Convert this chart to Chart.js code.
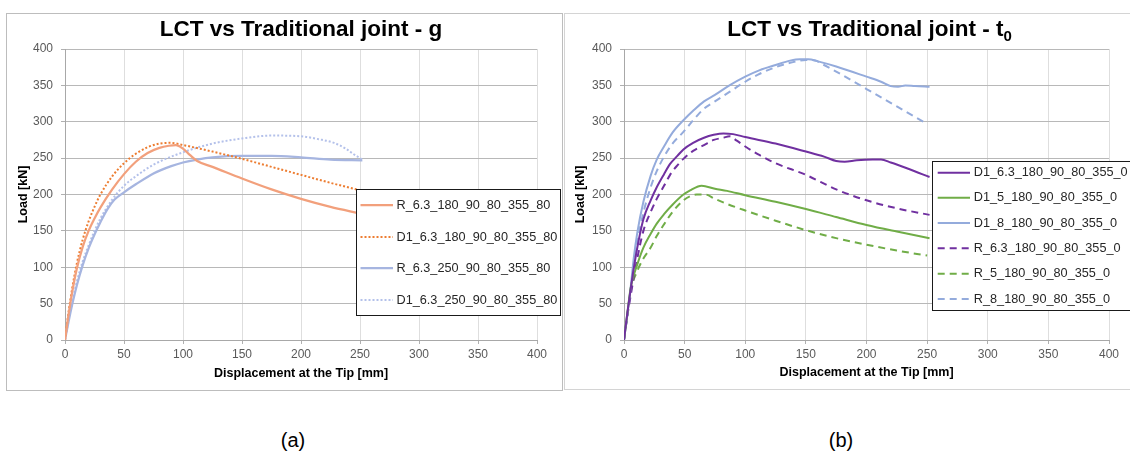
<!DOCTYPE html>
<html>
<head>
<meta charset="utf-8">
<script src="https://cdn.jsdelivr.net/npm/chart.js@4.4.0/dist/chart.umd.min.js"></script>
<style>
	body { margin: 0; width: 1130px; height: 458px; background: #fff; position: relative; overflow: hidden; font-family: 'Liberation Sans', Arial, sans-serif; }
	.panel { position: absolute; background: #fff; }
	#panelA { left: 6px; top: 13px; width: 555px; height: 376px; border: 1px solid #bdbdbd; }
	#panelB { left: 564px; top: 13px; width: 600px; height: 375px; border: 1px solid #d4d4d4; }
	canvas { display: block; }
	.cap { position: absolute; top: 429px; font-size: 20px; color: #000; width: 60px; margin-left: -30px; text-align: center; }
</style>
</head>
<body>
<div class="panel" id="panelA"><canvas id="chartA" width="555" height="376"></canvas></div>
<div class="panel" id="panelB"><canvas id="chartB" width="570" height="375"></canvas></div>
<div class="cap" style="left:293px">(a)</div>
<div class="cap" style="left:841px">(b)</div>
<script>
/* Chart (a): g series, displacement [mm] / load [kN] */
const r63_180_x = [0, 3, 6, 10, 15, 20, 25, 30, 40, 50, 60, 70, 80, 88, 94, 100, 106, 112, 125, 150, 175, 200, 225, 250];
const r63_180_y = [0, 35, 65, 98, 128, 150, 167, 182, 207, 228, 245, 257, 264, 267, 268, 263, 254, 246, 238, 222, 207, 194, 183, 174];
const d63_180_x = [0, 3, 6, 10, 15, 20, 25, 30, 40, 50, 60, 70, 80, 90, 100, 125, 150, 175, 200, 225, 252];
const d63_180_y = [0, 38, 70, 105, 138, 163, 183, 200, 225, 243, 256, 265, 270, 271, 268, 259, 249, 238, 227, 216, 205];
const r63_250_x = [0, 3, 6, 10, 15, 20, 25, 30, 36, 42, 50, 60, 75, 90, 100, 112, 125, 150, 175, 200, 225, 252];
const r63_250_y = [0, 25, 48, 75, 103, 126, 145, 162, 180, 193, 203, 214, 229, 239, 244, 248, 251, 253, 253, 251, 248, 247];
const d63_250_x = [0, 3, 6, 10, 15, 20, 25, 30, 40, 50, 60, 75, 100, 125, 150, 175, 200, 215, 228, 238, 245, 252];
const d63_250_y = [0, 28, 52, 80, 108, 130, 150, 167, 193, 212, 225, 241, 258, 270, 277, 281, 280, 276, 271, 263, 255, 248];

/* Chart (b): t0 series */
const d63_x = [0, 3, 5.5, 8, 12, 16, 22, 27, 33, 38, 44, 49, 57, 66, 74, 82, 90, 100, 125, 150, 165, 175, 182, 192, 205, 212, 220, 235, 252];
const d63_y = [0, 40, 70, 98, 136, 166, 192, 210, 228, 242, 253, 262, 271, 278, 282, 284, 283, 279, 270, 259, 252, 246, 245, 247, 248, 248, 244, 235, 224];
const d5_x = [0, 3, 5.5, 11, 16, 22, 27, 33, 40, 49, 55, 61, 64, 75, 85, 100, 125, 150, 175, 200, 225, 252];
const d5_y = [0, 40, 72, 104, 127, 146, 160, 173, 186, 200, 206, 211, 212, 208, 205, 199, 190, 180, 169, 158, 149, 140];
const d8_x = [0, 3, 5.5, 8, 11, 16, 22, 27, 33, 40, 49, 57, 66, 75, 87, 100, 112, 125, 137, 145, 152, 160, 175, 200, 212, 220, 226, 232, 240, 252];
const d8_y = [0, 38, 72, 112, 148, 190, 226, 248, 266, 285, 302, 315, 328, 337, 350, 362, 371, 378, 384, 386, 386, 383, 376, 362, 355, 349, 348, 350, 349, 348];
const r63_x = [0, 3, 6, 10, 16, 22, 27, 33, 38, 44, 49, 57, 66, 74, 82, 87, 93, 100, 112, 125, 150, 175, 200, 225, 252];
const r63_y = [0, 36, 66, 104, 150, 176, 194, 212, 227, 240, 249, 260, 268, 275, 278, 280, 274, 266, 254, 243, 227, 207, 192, 181, 172];
const r5_x = [0, 3, 5.5, 11, 16, 22, 27, 33, 40, 49, 55, 60, 67, 75, 85, 100, 125, 150, 175, 200, 225, 250];
const r5_y = [0, 38, 68, 95, 112, 127, 143, 159, 176, 192, 198, 200, 200, 194, 187, 178, 164, 151, 140, 131, 123, 116];
const r8_x = [0, 3, 5.5, 8, 11, 16, 22, 27, 33, 40, 49, 57, 66, 75, 87, 100, 112, 125, 137, 150, 158, 165, 175, 200, 225, 250];
const r8_y = [0, 36, 68, 102, 135, 175, 210, 232, 252, 270, 286, 302, 318, 328, 341, 355, 366, 375, 381, 385, 384, 378, 369, 345, 321, 297];

const xTicks = { min: 0, max: 400, step: 50 };
const yTicks = { min: 0, max: 400, step: 50 };

function pts(xs, ys) {
	return xs.map((x, i) => ({ x: x, y: ys[i] }));
}

function line(label, xs, ys, color, dash, width) {
	return {
		label: label,
		data: pts(xs, ys),
		showLine: true,
		borderColor: color,
		backgroundColor: color,
		borderWidth: width,
		borderDash: dash,
		pointRadius: 0,
		cubicInterpolationMode: 'monotone',
	};
}

// Legend drawn as a framed box inside the plot
const boxLegend = {
	id: 'boxLegend',
	afterDatasetsDraw(chart, args, o) {
		const ctx = chart.ctx;
		ctx.save();
		ctx.fillStyle = '#fff';
		ctx.fillRect(o.left, o.top, o.width, o.height);
		ctx.strokeStyle = '#1a1a1a';
		ctx.lineWidth = 1;
		ctx.strokeRect(o.left + 0.5, o.top + 0.5, o.width - 1, o.height - 1);
		ctx.font = o.font;
		ctx.textBaseline = 'middle';
		chart.data.datasets.forEach((ds, i) => {
			const y = o.rows[i];
			ctx.beginPath();
			ctx.strokeStyle = ds.borderColor;
			ctx.lineWidth = ds.borderWidth;
			ctx.setLineDash(ds.borderDash);
			ctx.moveTo(o.from, y);
			ctx.lineTo(o.to, y);
			ctx.stroke();
			ctx.setLineDash([]);
			ctx.fillStyle = '#262626';
			ctx.fillText(ds.label, o.textX, y);
		});
		ctx.restore();
	},
};

// Title with optional subscript, centred over the plot area
const subTitle = {
	id: 'subTitle',
	afterDraw(chart, args, o) {
		const ctx = chart.ctx;
		const a = chart.chartArea;
		ctx.save();
		ctx.fillStyle = '#000';
		ctx.textBaseline = 'alphabetic';
		ctx.font = 'bold 22.5px "Liberation Sans", Arial, sans-serif';
		const w1 = ctx.measureText(o.text).width;
		ctx.font = 'bold 15px "Liberation Sans", Arial, sans-serif';
		const w2 = o.sub ? ctx.measureText(o.sub).width : 0;
		let x = (a.left + a.right) / 2 + (o.shift || 0) - (w1 + w2) / 2;
		ctx.font = 'bold 22.5px "Liberation Sans", Arial, sans-serif';
		ctx.fillText(o.text, x, o.y);
		if (o.sub) {
			ctx.font = 'bold 15px "Liberation Sans", Arial, sans-serif';
			ctx.fillText(o.sub, x + w1, o.y + 5);
		}
		ctx.restore();
	},
};

function scales(yWidth, xHeight, yTitlePad) {
	return {
		x: {
			type: 'linear',
			min: xTicks.min,
			max: xTicks.max,
			ticks: { stepSize: xTicks.step, maxRotation: 0, padding: 3, color: '#595959', font: { size: 12 } },
			grid: { color: '#dedede', tickColor: '#b0b0b0', tickLength: 4 },
			border: { color: '#a8a8a8' },
			title: { display: true, text: 'Displacement at the Tip [mm]', color: '#000', font: { size: 12.5, weight: 'bold' }, padding: { top: 0, bottom: 8.5 } },
			afterFit(s) { s.height = xHeight; },
		},
		y: {
			min: yTicks.min,
			max: yTicks.max,
			ticks: { stepSize: yTicks.step, padding: 8, color: '#595959', font: { size: 12 } },
			grid: { color: '#b8b8b8', tickColor: '#b0b0b0', tickLength: 4 },
			border: { color: '#a8a8a8' },
			title: { display: true, text: 'Load [kN]', color: '#000', font: { size: 12.5, weight: 'bold' }, padding: { top: yTitlePad, bottom: 0 } },
			afterFit(s) { s.width = yWidth; },
		},
	};
}

Chart.defaults.font.family = "'Liberation Sans', Arial, sans-serif";

new Chart(document.getElementById('chartA'), {
	type: 'scatter',
	data: {
		datasets: [
			line('R_6.3_180_90_80_355_80', r63_180_x, r63_180_y, '#f2a07c', [], 2.25),
			line('D1_6.3_180_90_80_355_80', d63_180_x, d63_180_y, '#ed7d31', [2, 2], 2),
			line('R_6.3_250_90_80_355_80', r63_250_x, r63_250_y, '#a6b5e0', [], 2.25),
			line('D1_6.3_250_90_80_355_80', d63_250_x, d63_250_y, '#b4c1ea', [2, 2], 2),
		],
	},
	options: {
		responsive: false,
		animation: false,
		layout: { padding: { left: 0, right: 25, top: 35, bottom: 0 } },
		scales: scales(58, 50, 9),
		plugins: {
			legend: { display: false },
			tooltip: { enabled: false },
			subTitle: { text: 'LCT vs Traditional joint - g', y: 21.7 },
			boxLegend: {
				left: 349, top: 175, width: 205, height: 127,
				rows: [191, 223, 254, 286], from: 353.5, to: 386, textX: 389.5,
				font: '12.7px "Liberation Sans", Arial, sans-serif',
			},
		},
	},
	plugins: [boxLegend, subTitle],
});

new Chart(document.getElementById('chartB'), {
	type: 'scatter',
	data: {
		datasets: [
			line('D1_6.3_180_90_80_355_0', d63_x, d63_y, '#7030a0', [], 2),
			line('D1_5_180_90_80_355_0', d5_x, d5_y, '#70ad47', [], 2),
			line('D1_8_180_90_80_355_0', d8_x, d8_y, '#94abdc', [], 2),
			line('R_6.3_180_90_80_355_0', r63_x, r63_y, '#7030a0', [7, 5], 2),
			line('R_5_180_90_80_355_0', r5_x, r5_y, '#70ad47', [7, 5], 2),
			line('R_8_180_90_80_355_0', r8_x, r8_y, '#94abdc', [7, 5], 2),
		],
	},
	options: {
		responsive: false,
		animation: false,
		layout: { padding: { left: 0, right: 26, top: 35, bottom: 0 } },
		scales: scales(59, 49, 8.2),
		plugins: {
			legend: { display: false },
			tooltip: { enabled: false },
			subTitle: { text: 'LCT vs Traditional joint - t', sub: '0', y: 21.7, shift: 3 },
			boxLegend: {
				left: 367, top: 147, width: 230, height: 150,
				rows: [158.7, 183.7, 209, 234.3, 259.7, 285], from: 372.7, to: 405, textX: 408.8,
				font: '12.7px "Liberation Sans", Arial, sans-serif',
			},
		},
	},
	plugins: [boxLegend, subTitle],
});
</script>
</body>
</html>
